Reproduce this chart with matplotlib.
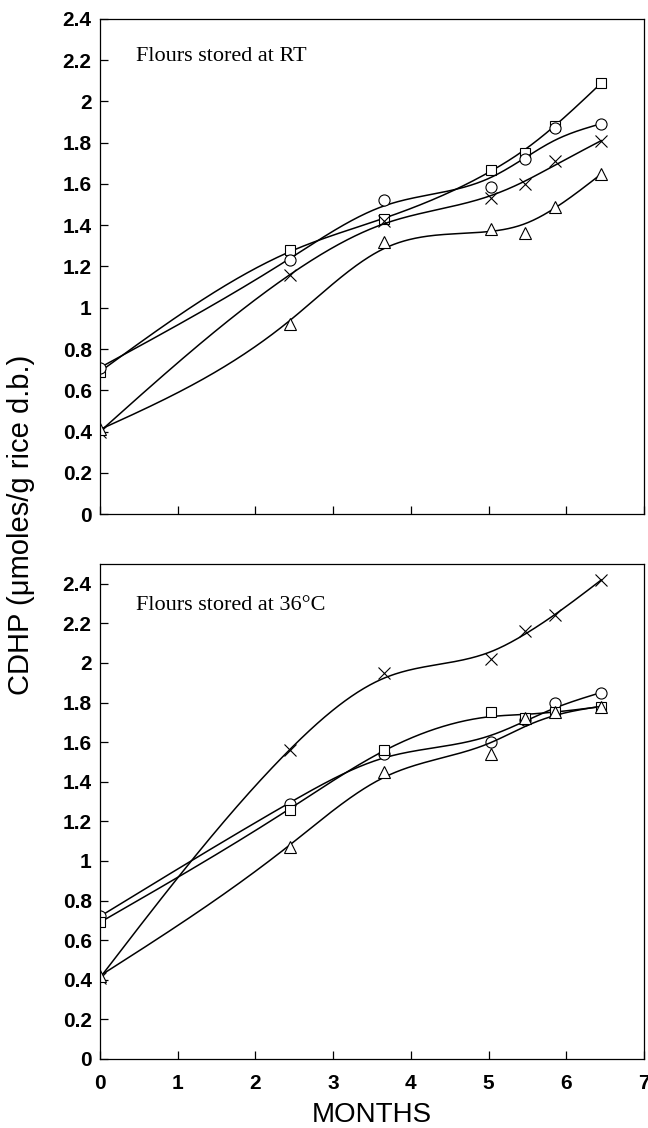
import numpy as np
import matplotlib
matplotlib.use("Agg")
import matplotlib.pyplot as plt

# months at which the flours were sampled
months = [0, 2.45, 3.65, 5.03, 5.47, 5.85, 6.45]

# flours stored at room temperature
rt_square = [0.69, 1.28, 1.43, 1.67, 1.75, 1.88, 2.09]
rt_circle = [0.71, 1.23, 1.52, 1.585, 1.72, 1.87, 1.89]
rt_cross = [0.40, 1.16, 1.42, 1.53, 1.60, 1.71, 1.81]
rt_triangle = [0.41, 0.92, 1.32, 1.38, 1.36, 1.49, 1.65]

# flours stored at 36 C
hot_cross = [0.41, 1.56, 1.95, 2.02, 2.16, 2.24, 2.42]
hot_circle = [0.72, 1.29, 1.54, 1.60, 1.71, 1.80, 1.85]
hot_square = [0.69, 1.26, 1.56, 1.75, 1.72, 1.75, 1.78]
hot_triangle = [0.42, 1.07, 1.45, 1.54, 1.72, 1.75, 1.78]

x_ticks = [0, 1, 2, 3, 4, 5, 6, 7]
y_ticks = [0, 0.2, 0.4, 0.6, 0.8, 1, 1.2, 1.4, 1.6, 1.8, 2, 2.2, 2.4]
y_tick_labels = ['0', '0.2', '0.4', '0.6', '0.8', '1', '1.2', '1.4', '1.6', '1.8', '2', '2.2', '2.4']


def smooth_curve(x, y, lam_c=0.05, n=400):
    """discrete smoothing spline (penalised least squares on a fine grid)"""
    x = np.asarray(x, float); y = np.asarray(y, float)
    xs = np.linspace(x[0], x[-1], n)
    h = xs[1] - xs[0]
    A = np.zeros((len(x), n))
    for i, xi in enumerate(x):
        j = min(int((xi - xs[0]) / h), n - 2)
        w = (xi - xs[j]) / h
        A[i, j] = 1 - w
        A[i, j + 1] = w
    # pin the end points harder, the curves start/finish on the markers
    wts = np.ones(len(x)); wts[0] = wts[-1] = 10
    W = np.diag(wts)
    D = np.diff(np.eye(n), 2, axis=0)
    lam = lam_c / h**3
    f = np.linalg.solve(A.T @ W @ A + lam * D.T @ D, A.T @ W @ y)
    return xs, f


tick_font = dict(family='Liberation Sans', weight='bold', size=15)

fig = plt.figure(figsize=(6.48, 11.28), dpi=100)
ax1 = fig.add_axes([0.1543, 0.5443, 0.8395, 0.4389])
ax2 = fig.add_axes([0.1543, 0.0612, 0.8395, 0.4388])

panels = [
    (ax1, [(rt_square, 's'), (rt_circle, 'o'), (rt_cross, 'x'), (rt_triangle, '^')],
     2.4, 'Flours stored at RT', 2.22),
    (ax2, [(hot_cross, 'x'), (hot_circle, 'o'), (hot_square, 's'), (hot_triangle, '^')],
     2.5, 'Flours stored at 36°C', 2.29),
]

for ax, series, ytop, title, ty in panels:
    for vals, mk in series:
        xs, f = smooth_curve(months, vals)
        ax.plot(xs, f, color='black', lw=1.1)
        ms = {'x': 9, 'o': 8, 's': 7, '^': 8.5}[mk]
        ax.plot(months, vals, linestyle='none', marker=mk, ms=ms,
                mfc='white' if mk != 'x' else 'black', mec='black', mew=0.8)
    ax.set_xlim(0, 7)
    ax.set_ylim(0, ytop)
    ax.set_xticks(x_ticks)
    ax.set_yticks(y_ticks)
    ax.set_yticklabels(y_tick_labels, fontdict=tick_font)
    ax.tick_params(direction='in', length=6, width=0.9, color='black')
    ax.tick_params(axis='y', pad=6)
    ax.tick_params(axis='x', pad=11)
    for s in ax.spines.values():
        s.set_linewidth(0.9)
    ax.text(0.46, ty, title, family='Liberation Serif', fontsize=16, va='center', ha='left')

ax1.set_xticklabels([])
ax2.set_xticklabels([str(t) for t in x_ticks], fontdict=tick_font)
ax2.set_xlabel('MONTHS', family='Liberation Sans', fontsize=20, labelpad=6)

fig.text(0.033, 0.535, 'CDHP (μmoles/g rice d.b.)', rotation=90, family='Liberation Sans',
         fontsize=21, ha='center', va='center')

fig.savefig('out.png', dpi=100)
